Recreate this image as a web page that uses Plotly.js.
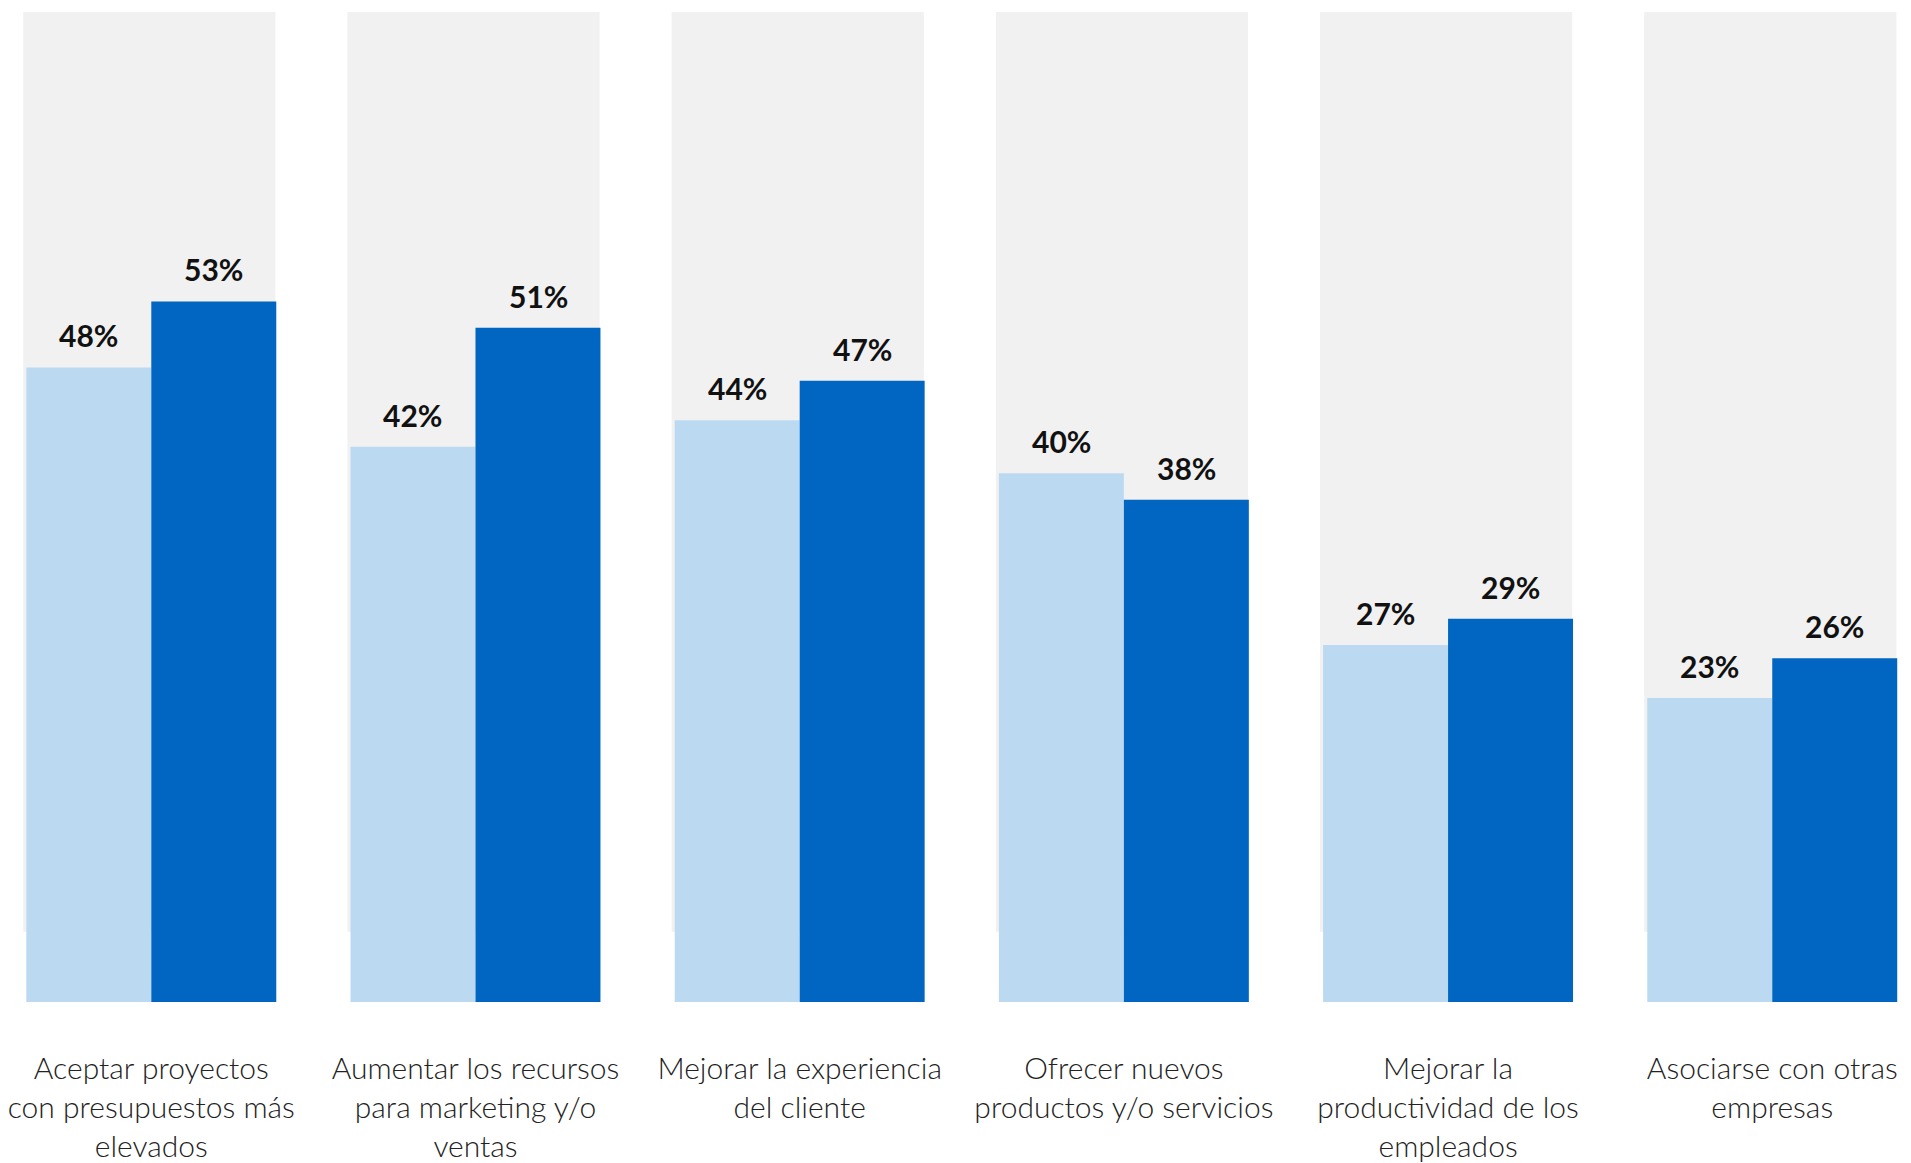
<!DOCTYPE html>
<html>
<head>
<meta charset="utf-8">
<script src="https://cdn.plot.ly/plotly-3.0.1.min.js"></script>
<style>
  html, body { margin: 0; padding: 0; background: #ffffff; }
  #chart { width: 1911px; height: 1163px; }
</style>
</head>
<body>
<div id="chart"></div>
<script>
// ---- data ----
const categories = [
  "Aceptar proyectos<br>con presupuestos más<br>elevados",
  "Aumentar los recursos<br>para marketing y/o<br>ventas",
  "Mejorar la experiencia<br>del cliente",
  "Ofrecer nuevos<br>productos y/o servicios",
  "Mejorar la<br>productividad de los<br>empleados",
  "Asociarse con otras<br>empresas"
];
const seriesA = [48, 42, 44, 40, 27, 23];   // light blue
const seriesB = [53, 51, 47, 38, 29, 26];   // dark blue

// ---- styles ----
const lightColor = "#BBDAF2";
const darkColor = "#0066C2";
const panelColor = "#F1F1F1";
const labelFont = "Lato, 'Open Sans', sans-serif";

const traces = [
  {
    type: "bar", name: "A", x: categories, y: seriesA,
    marker: { color: lightColor, line: { width: 0 } },
    hoverinfo: "none"
  },
  {
    type: "bar", name: "B", x: categories, y: seriesB,
    marker: { color: darkColor, line: { width: 0 } },
    hoverinfo: "none"
  }
];

// background panels behind each group (decoration)
const panelLeft = 0.395, panelRight = 0.383;
const shapes = categories.map((c, i) => ({
  type: "rect", layer: "below", xref: "x", yref: "paper",
  x0: i - panelLeft, x1: i + panelRight, y0: 0.070, y1: 0.988,
  fillcolor: panelColor, line: { width: 0 }
}));

// value labels
const barHalf = 62.6;
const valueFont = { family: labelFont, size: 30, color: "#111111", weight: 700 };
const annotations = [];
categories.forEach((c, i) => {
  annotations.push({
    x: c, y: seriesA[i], xref: "x", yref: "y", xshift: -barHalf, yshift: 12,
    yanchor: "bottom", showarrow: false, text: seriesA[i] + "%", font: valueFont
  });
  annotations.push({
    x: c, y: seriesB[i], xref: "x", yref: "y", xshift: barHalf, yshift: 12,
    yanchor: "bottom", showarrow: false, text: seriesB[i] + "%", font: valueFont
  });
});

const layout = {
  width: 1911, height: 1163,
  margin: { l: 0, r: 0, t: 0, b: 161, pad: 0 },
  paper_bgcolor: "#ffffff", plot_bgcolor: "rgba(0,0,0,0)",
  showlegend: false,
  barmode: "group", bargap: 0.229, bargroupgap: 0,
  xaxis: {
    type: "category",
    range: [-0.4667, 5.428],
    showgrid: false, zeroline: false, showline: false, ticks: "",
    ticklabelstandoff: 46,
    tickfont: { family: labelFont, size: 30, color: "#222222", weight: 300 },
    fixedrange: true
  },
  yaxis: {
    range: [0, 75.8],
    showgrid: false, zeroline: false, showline: false, showticklabels: false, ticks: "",
    fixedrange: true
  },
  shapes: shapes,
  annotations: annotations
};

Plotly.newPlot("chart", traces, layout, { displayModeBar: false, staticPlot: true });
</script>
</body>
</html>
